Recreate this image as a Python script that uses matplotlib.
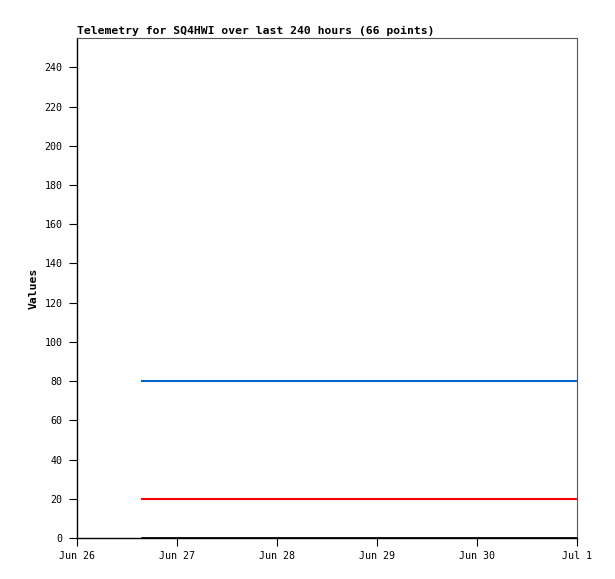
import datetime as dt

import matplotlib
matplotlib.use("Agg")
import matplotlib.dates as mdates
import matplotlib.pyplot as plt
from matplotlib.ticker import FuncFormatter, MultipleLocator

# series: (start, end) timestamps and constant values
times = [dt.datetime(2024, 6, 26, 15, 20), dt.datetime(2024, 7, 1, 0, 0)]
blue_values = [80, 80]
red_values = [20, 20]
black_values = [0, 0]

x_start = dt.datetime(2024, 6, 26)
x_end = dt.datetime(2024, 7, 1)
title = "Telemetry for SQ4HWI over last 240 hours (66 points)"

plt.rcParams.update({
    "font.family": ["DejaVu Sans Mono"],
    "font.size": 7.2,
})

fig = plt.figure(figsize=(6.15, 5.79), dpi=100)
ax = fig.add_axes([77 / 615, 1 - 538 / 579, 500 / 615, 500 / 579])

ax.plot(times, blue_values, color="#0066cc", linewidth=1.5, solid_capstyle="butt")
ax.plot(times, red_values, color="#ff0000", linewidth=1.5, solid_capstyle="butt")
ax.plot(times, black_values, color="#000000", linewidth=2.0, solid_capstyle="butt")

ax.set_xlim(x_start, x_end)
ax.set_ylim(0, 255)
ax.yaxis.set_major_locator(MultipleLocator(20))
ax.xaxis.set_major_locator(mdates.DayLocator())
ax.xaxis.set_major_formatter(FuncFormatter(
    lambda v, pos: f"{mdates.num2date(v):%b} {mdates.num2date(v).day}"))

ax.tick_params(axis="both", direction="out", length=5.5, width=0.8, color="black",
               labelsize=7.2)
ax.tick_params(axis="x", pad=4)
ax.tick_params(axis="y", pad=5)
for side in ("left", "bottom"):
    ax.spines[side].set_color("black")
    ax.spines[side].set_linewidth(1.0)
for side in ("top", "right"):
    ax.spines[side].set_color("#555555")
    ax.spines[side].set_linewidth(0.8)

ax.set_ylabel("Values", fontweight="bold", fontsize=8.2, labelpad=4)
ax.set_title(title, loc="left", fontweight="bold", fontsize=8.2, pad=3)

fig.savefig("out.png", dpi=100)
